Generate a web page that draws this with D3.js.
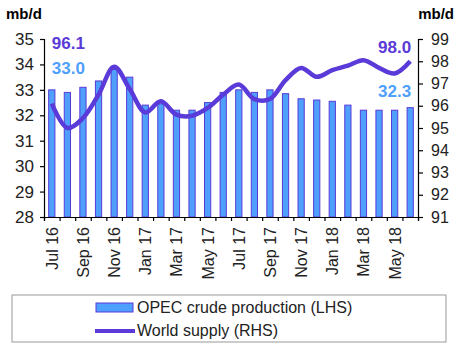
<!DOCTYPE html>
<html>
<head>
<meta charset="utf-8">
<script src="https://cdn.jsdelivr.net/npm/d3@7"></script>
<style>
  body { margin: 0; background: #fff; }
  text { font-family: "Liberation Sans", Arial, sans-serif; }
</style>
</head>
<body>
<div id="chart"></div>
<script>
const months = ["Jul 16","Aug 16","Sep 16","Oct 16","Nov 16","Dec 16","Jan 17","Feb 17","Mar 17","Apr 17","May 17","Jun 17",
                "Jul 17","Aug 17","Sep 17","Oct 17","Nov 17","Dec 17","Jan 18","Feb 18","Mar 18","Apr 18","May 18","Jun 18"];
const opecProduction = [33.0, 32.9, 33.1, 33.35, 33.8, 33.5, 32.4, 32.45, 32.2, 32.2, 32.5, 32.9,
                        33.0, 32.9, 33.0, 32.85, 32.65, 32.6, 32.55, 32.4, 32.2, 32.2, 32.2, 32.3];
const worldSupply = [96.1, 95.0, 95.45, 96.5, 97.75, 96.75, 95.7, 96.2, 95.6, 95.55, 95.9, 96.5,
                     96.95, 96.3, 96.3, 97.15, 97.7, 97.3, 97.6, 97.8, 98.05, 97.7, 97.45, 98.0];
const leftTicks = [28, 29, 30, 31, 32, 33, 34, 35];
const rightTicks = [91, 92, 93, 94, 95, 96, 97, 98, 99];

const W = 460, H = 350;
const margin = { top: 39, right: 42, bottom: 133, left: 44 },
      width = W - margin.left - margin.right,
      height = H - margin.top - margin.bottom;

const barColor = "#4f9ffc", barStroke = "#5a3ad8", lineColor = "#5a3ad8";

const svg = d3.select("#chart").append("svg")
    .attr("width", W)
    .attr("height", H);

const g = svg.append("g")
    .attr("transform", `translate(${margin.left},${margin.top})`);

const x = d3.scaleBand()
    .domain(months)
    .range([0, width])
    .paddingInner(0.6)
    .paddingOuter(0.3);

const yL = d3.scaleLinear().domain([28, 35]).range([height, 0]);
const yR = d3.scaleLinear().domain([91, 99]).range([height, 0]);

// bars
g.selectAll(".bar")
    .data(months.map((m, i) => ({ m, v: opecProduction[i] })))
    .enter().append("rect")
    .attr("x", d => x(d.m))
    .attr("y", d => yL(d.v))
    .attr("width", x.bandwidth())
    .attr("height", d => height - yL(d.v))
    .attr("fill", barColor)
    .attr("stroke", barStroke)
    .attr("stroke-width", 1);

// line
const line = d3.line()
    .x((d, i) => x(months[i]) + x.bandwidth() / 2)
    .y(d => yR(d))
    .curve(d3.curveCatmullRom.alpha(0.5));

g.append("path")
    .datum(worldSupply)
    .attr("fill", "none")
    .attr("stroke", lineColor)
    .attr("stroke-width", 4.5)
    .attr("d", line);

// axes
const axL = g.append("g")
    .call(d3.axisLeft(yL).tickValues(leftTicks).tickFormat(d3.format("d")).tickSize(4).tickPadding(6));
const axR = g.append("g")
    .attr("transform", `translate(${width},0)`)
    .call(d3.axisRight(yR).tickValues(rightTicks).tickFormat(d3.format("d")).tickSize(5).tickPadding(8));

const axB = g.append("g")
    .attr("transform", `translate(0,${height})`)
    .call(d3.axisBottom(d3.scaleLinear().domain([0, months.length]).range([0, width]))
        .tickValues(d3.range(months.length + 1)).tickSize(4).tickFormat(""));

[axL, axR, axB].forEach(a => {
    a.select(".domain").attr("stroke", "#000").attr("stroke-width", 1.2);
    a.selectAll(".tick line").attr("stroke", "#000").attr("stroke-width", 1.2);
    a.selectAll("text").attr("font-size", 16).attr("fill", "#222")
        .attr("font-family", "Liberation Sans, Arial, sans-serif");
});
axL.selectAll("text").attr("font-size", 17);

// month labels
g.append("g")
    .selectAll("text")
    .data(months.filter((m, i) => i % 2 === 0))
    .enter().append("text")
    .attr("transform", d => `translate(${x(d) + x.bandwidth() / 2 + 6},${height + 10}) rotate(-90)`)
    .attr("text-anchor", "end")
    .attr("font-size", 16)
    .attr("fill", "#222")
    .text(d => d);

// unit titles
svg.append("text").attr("x", 6).attr("y", 19)
    .attr("font-size", 15).attr("font-weight", "bold").text("mb/d");
svg.append("text").attr("x", 454).attr("y", 19).attr("text-anchor", "end")
    .attr("font-size", 15).attr("font-weight", "bold").text("mb/d");

// value annotations
const firstX = x(months[0]) + x.bandwidth() / 2,
      lastX = x(months[months.length - 1]) + x.bandwidth() / 2;
g.append("text").attr("x", firstX).attr("y", 10).attr("font-size", 17).attr("font-weight", "bold")
    .attr("fill", lineColor).text(worldSupply[0].toFixed(1));
g.append("text").attr("x", firstX).attr("y", 35).attr("font-size", 17).attr("font-weight", "bold")
    .attr("fill", barColor).text(opecProduction[0].toFixed(1));
g.append("text").attr("x", lastX + 1).attr("y", 14).attr("text-anchor", "end").attr("font-size", 17)
    .attr("font-weight", "bold").attr("fill", lineColor).text(worldSupply[worldSupply.length - 1].toFixed(1));
g.append("text").attr("x", lastX + 1).attr("y", 58).attr("text-anchor", "end").attr("font-size", 17)
    .attr("font-weight", "bold").attr("fill", barColor).text(opecProduction[opecProduction.length - 1].toFixed(1));

// legend
const legend = svg.append("g");
legend.append("rect")
    .attr("x", 12).attr("y", 295).attr("width", 434).attr("height", 47)
    .attr("fill", "#fff").attr("stroke", "#999").attr("stroke-width", 1);
legend.append("rect")
    .attr("x", 96).attr("y", 303).attr("width", 37).attr("height", 9)
    .attr("fill", barColor).attr("stroke", barStroke);
legend.append("text").attr("x", 137).attr("y", 313).attr("font-size", 16).attr("fill", "#222")
    .text("OPEC crude production (LHS)");
legend.append("line")
    .attr("x1", 95).attr("x2", 135).attr("y1", 331).attr("y2", 331)
    .attr("stroke", lineColor).attr("stroke-width", 4);
legend.append("text").attr("x", 137).attr("y", 336).attr("font-size", 16).attr("fill", "#222")
    .text("World supply (RHS)");
</script>
</body>
</html>
